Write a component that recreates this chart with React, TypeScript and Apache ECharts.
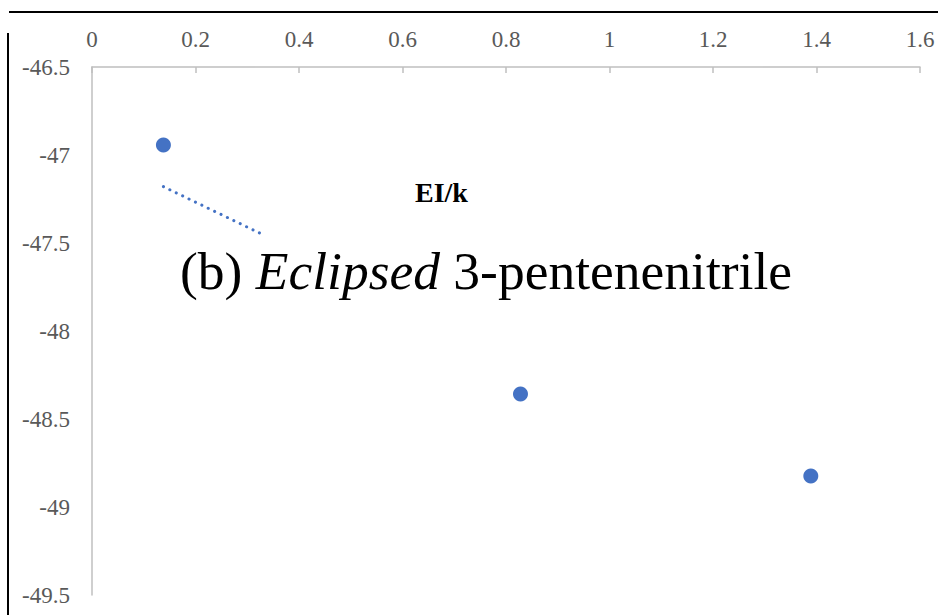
import React, { useEffect, useRef } from "react";
import * as echarts from "echarts";

const xTicks = { min: 0, max: 1.6, interval: 0.2 };
const yTicks = { min: -49.5, max: -46.5, interval: 0.5 };
const pointsX = [0.138, 0.828, 1.389];
const pointsY = [-46.943, -48.358, -48.824];
const trendX = [0.138, 0.325];
const trendY = [-47.18, -47.445];
const axisTitle = "EI/k";
const titleParts = ["(b) ", "Eclipsed", " 3-pentenenitrile"];

export default function App() {
  const ref = useRef<HTMLDivElement>(null);
  useEffect(() => {
    if (!ref.current) return;
    const chart = echarts.init(ref.current, null, { renderer: "svg" });
    const serif = "'Liberation Serif'";
    chart.setOption({
      animation: false,
      backgroundColor: "#ffffff",
      grid: { left: 92, top: 67, right: 18, bottom: 20, containLabel: false },
      xAxis: {
        type: "value",
        position: "top",
        min: xTicks.min,
        max: xTicks.max,
        interval: xTicks.interval,
        axisLine: { show: true, onZero: false, lineStyle: { color: "#bfbfbf", width: 1.5 } },
        axisTick: { show: true, inside: true, length: 6, lineStyle: { color: "#bfbfbf", width: 1.5 } },
        splitLine: { show: false },
        axisLabel: { fontFamily: serif, fontSize: 23, color: "#595959", margin: 16 },
      },
      yAxis: {
        type: "value",
        min: yTicks.min,
        max: yTicks.max,
        interval: yTicks.interval,
        axisLine: { show: true, onZero: false, lineStyle: { color: "#bfbfbf", width: 1.5 } },
        axisTick: { show: false },
        splitLine: { show: false },
        axisLabel: { fontFamily: serif, fontSize: 23, color: "#595959", margin: 22 },
      },
      series: [
        {
          type: "scatter",
          symbol: "circle",
          symbolSize: 15,
          itemStyle: { color: "#4472c4", opacity: 1 },
          data: pointsX.map((x, i) => [x, pointsY[i]]),
        },
        {
          type: "line",
          symbol: "none",
          lineStyle: { color: "#4472c4", width: 3, type: [0.1, 7], cap: "round" },
          data: trendX.map((x, i) => [x, trendY[i]]),
        },
      ],
      graphic: [
        { type: "line", shape: { x1: 9, y1: 12, x2: 938, y2: 12 }, style: { stroke: "#000", lineWidth: 2 } },
        { type: "line", shape: { x1: 8, y1: 33, x2: 8, y2: 615 }, style: { stroke: "#000", lineWidth: 2 } },
        {
          type: "text",
          left: 415,
          top: 178,
          style: { text: axisTitle, font: `bold 28px ${serif}`, fill: "#000" },
        },
        {
          type: "text",
          left: 180,
          top: 244,
          style: {
            text: `{n|${titleParts[0]}}{i|${titleParts[1]}}{n|${titleParts[2]}}`,
            rich: {
              n: { fontFamily: serif, fontSize: 53.5, fill: "#000" },
              i: { fontFamily: serif, fontSize: 53.5, fontStyle: "italic", fill: "#000" },
            },
          },
        },
      ],
    });
    return () => chart.dispose();
  }, []);
  return <div ref={ref} style={{ position: "fixed", left: 0, top: 0, width: 938, height: 615 }} />;
}
